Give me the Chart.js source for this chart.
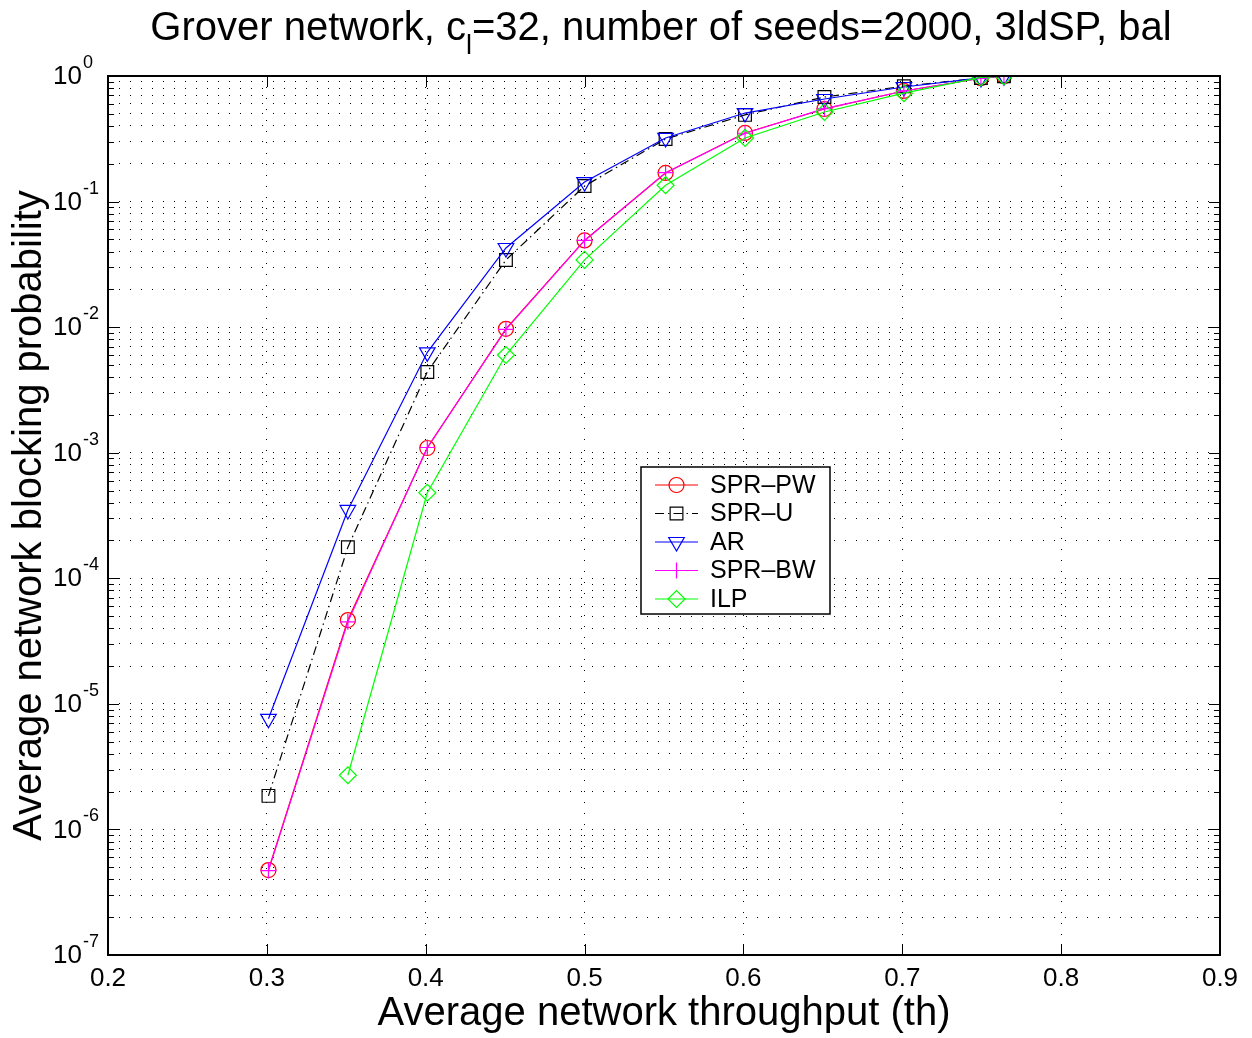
<!DOCTYPE html>
<html>
<head>
<meta charset="utf-8">
<title>Grover network blocking probability</title>
<script src="https://cdn.jsdelivr.net/npm/chart.js@4/dist/chart.umd.min.js"></script>
<style>
  html, body { margin: 0; padding: 0; background: #fff; }
  canvas { display: block; }
</style>
</head>
<body>
<canvas id="chart" width="1252" height="1038"></canvas>
<script>
(function () {
  'use strict';

  const FONT = 'Arial, "Liberation Sans", Helvetica, sans-serif';

  // Average network throughput (x) at which each point was measured.
  const throughput = [0.301, 0.351, 0.401, 0.4505, 0.5, 0.551, 0.601, 0.651, 0.701, 0.7495, 0.764];

  // Average network blocking probability per scheme.
  const sprPw = [4.75e-7, 4.65e-5, 1.09e-3, 9.7e-3, 0.049, 0.169, 0.352, 0.546, 0.76, 0.96, 0.995];
  const sprU = [1.85e-6, 1.77e-4, 4.4e-3, 0.0343, 0.133, 0.315, 0.49, 0.68, 0.83, 0.965, 0.995];
  const ar = [7.6e-6, 3.5e-4, 6.3e-3, 0.0427, 0.143, 0.321, 0.507, 0.656, 0.817, 0.965, 0.995];
  const sprBw = [4.7e-7, 4.5e-5, 1.1e-3, 9.6e-3, 0.049, 0.17, 0.35, 0.55, 0.76, 0.96, 0.995];
  const ilp = [null, 2.7e-6, 4.8e-4, 6.0e-3, 0.0343, 0.135, 0.321, 0.517, 0.73, 0.975, 0.995];

  // Axis ticks.
  const xTicks = [0.2, 0.3, 0.4, 0.5, 0.6, 0.7, 0.8, 0.9];
  const yExponents = [0, -1, -2, -3, -4, -5, -6, -7];

  const seriesNames = ['SPR–PW', 'SPR–U', 'AR', 'SPR–BW', 'ILP'];

  function points(values) {
    return values.map((v, i) => ({ x: throughput[i], y: v }));
  }

  // MATLAB draws in plot order, last on top; Chart.js draws high `order` first.
  function series(label, values, color, style, extra) {
    return Object.assign({
      label,
      data: points(values),
      borderColor: color,
      backgroundColor: 'rgba(0,0,0,0)',
      pointBorderColor: color,
      pointBackgroundColor: 'rgba(0,0,0,0)',
      borderWidth: 1.2,
      pointBorderWidth: 1.2,
      pointStyle: style,
      pointRadius: 8,
      tension: 0,
    }, extra);
  }

  const datasets = [
    series(seriesNames[0], sprPw, '#ff0000', 'circle', { pointRadius: 7.5, order: 5 }),
    series(seriesNames[1], sprU, '#000000', 'rect', { pointRadius: 9, borderDash: [9, 4, 1.5, 4], order: 4 }),
    series(seriesNames[2], ar, '#0000ff', 'triangle', { pointRadius: 9, pointRotation: 180, order: 3 }),
    series(seriesNames[3], sprBw, '#ff00ff', 'cross', { pointRadius: 8, order: 2 }),
    series(seriesNames[4], ilp, '#00ff00', 'rectRot', { pointRadius: 8.5, order: 1 }),
  ];

  // Frame, inward ticks, log labels with superscripts, legend and title.
  const matlabFrame = {
    id: 'matlabFrame',
    afterDraw(chart) {
      const ctx = chart.ctx;
      const area = chart.chartArea;
      const xs = chart.scales.x;
      const ys = chart.scales.y;
      const major = 11;
      const minor = 6;

      ctx.save();
      ctx.strokeStyle = '#000';
      ctx.lineWidth = 1;
      ctx.beginPath();
      xTicks.forEach((t) => {
        const px = Math.round(xs.getPixelForValue(t)) + 0.5;
        ctx.moveTo(px, area.bottom);
        ctx.lineTo(px, area.bottom - major);
        ctx.moveTo(px, area.top);
        ctx.lineTo(px, area.top + major);
      });
      ys.ticks.forEach((t) => {
        const py = Math.round(ys.getPixelForValue(t.value)) + 0.5;
        const len = t.major ? major : minor;
        ctx.moveTo(area.left, py);
        ctx.lineTo(area.left + len, py);
        ctx.moveTo(area.right, py);
        ctx.lineTo(area.right - len, py);
      });
      ctx.stroke();

      ctx.lineWidth = 2;
      ctx.strokeRect(area.left, area.top, area.right - area.left, area.bottom - area.top);

      // y tick labels: 10 with a raised exponent
      ctx.fillStyle = '#000';
      ctx.textBaseline = 'middle';
      yExponents.forEach((e) => {
        const py = ys.getPixelForValue(Math.pow(10, e));
        ctx.font = '26px ' + FONT;
        ctx.textAlign = 'right';
        ctx.fillText('10', 82, py + 1);
        ctx.font = '18px ' + FONT;
        ctx.textAlign = 'left';
        ctx.fillText(e === 0 ? '0' : '-' + Math.abs(e), 83, py - 13);
      });

      // legend
      const lx = 641, ly = 467, lw = 189, lh = 147;
      ctx.fillStyle = '#fff';
      ctx.fillRect(lx, ly, lw, lh);
      ctx.lineWidth = 1.5;
      ctx.strokeStyle = '#000';
      ctx.strokeRect(lx, ly, lw, lh);
      datasets.forEach((ds, i) => {
        const cy = ly + 18 + i * 28.5;
        ctx.save();
        ctx.strokeStyle = ds.borderColor;
        ctx.lineWidth = 1.2;
        ctx.setLineDash(ds.borderDash || []);
        ctx.beginPath();
        ctx.moveTo(655, cy);
        ctx.lineTo(698, cy);
        ctx.stroke();
        ctx.restore();
        ctx.save();
        ctx.strokeStyle = ds.pointBorderColor;
        ctx.fillStyle = 'rgba(0,0,0,0)';
        ctx.lineWidth = 1.2;
        Chart.helpers.drawPoint(ctx, {
          pointStyle: ds.pointStyle,
          rotation: ds.pointRotation || 0,
          radius: ds.pointRadius,
          borderWidth: 1.2,
        }, 676.5, cy);
        ctx.restore();
        ctx.fillStyle = '#000';
        ctx.font = '25px ' + FONT;
        ctx.textAlign = 'left';
        ctx.textBaseline = 'middle';
        ctx.fillText(ds.label, 710, cy + 1);
      });

      // title with subscript l
      const parts = [
        ['Grover network, c', '40px ' + FONT, 0],
        ['l', '27px ' + FONT, 14],
        ['=32, number of seeds=2000, 3ldSP, bal', '40px ' + FONT, 0],
      ];
      let total = 0;
      parts.forEach((p) => { ctx.font = p[1]; total += ctx.measureText(p[0]).width; });
      let tx = (area.left + area.right) / 2 - total / 2 - 3;
      ctx.textAlign = 'left';
      ctx.textBaseline = 'alphabetic';
      parts.forEach((p) => {
        ctx.font = p[1];
        ctx.fillText(p[0], tx, 40 + p[2]);
        tx += ctx.measureText(p[0]).width;
      });
      ctx.restore();
    },
  };

  new Chart(document.getElementById('chart'), {
    type: 'line',
    data: { datasets },
    plugins: [matlabFrame],
    options: {
      responsive: false,
      animation: false,
      devicePixelRatio: 1,
      layout: { padding: { top: 76, right: 32, left: 0, bottom: 0 } },
      plugins: {
        legend: { display: false },
        title: { display: false },
        tooltip: { enabled: false },
      },
      scales: {
        x: {
          type: 'linear',
          min: 0.2,
          max: 0.9,
          afterFit: (scale) => { scale.height = 83; },
          afterBuildTicks: (scale) => { scale.ticks = xTicks.map((v) => ({ value: v })); },
          ticks: {
            color: '#000',
            font: { family: FONT, size: 26 },
            padding: 8,
            maxRotation: 0,
            autoSkip: false,
            callback: (v) => Number(v).toFixed(1),
          },
          grid: { color: '#000', lineWidth: 1, drawTicks: false },
          border: { display: false, dash: [1, 10] },
          title: {
            display: true,
            text: 'Average network throughput (th)',
            color: '#000',
            font: { family: FONT, size: 40 },
            padding: { top: 0, bottom: 0 },
          },
        },
        y: {
          type: 'logarithmic',
          min: 1e-7,
          max: 1,
          afterFit: (scale) => { scale.width = 108; },
          afterBuildTicks: (scale) => {
            const ticks = [];
            for (let e = -7; e < 0; e++) {
              for (let k = 1; k <= 9; k++) {
                ticks.push({ value: k * Math.pow(10, e), major: k === 1 });
              }
            }
            ticks.push({ value: 1, major: true });
            scale.ticks = ticks;
          },
          ticks: { display: false, autoSkip: false },
          grid: { color: '#000', lineWidth: 1, drawTicks: false },
          border: { display: false, dash: [1, 10] },
          title: {
            display: true,
            text: 'Average network blocking probability',
            color: '#000',
            font: { family: FONT, size: 40 },
            padding: { top: 6, bottom: 0 },
          },
        },
      },
    },
  });
})();
</script>
</body>
</html>
